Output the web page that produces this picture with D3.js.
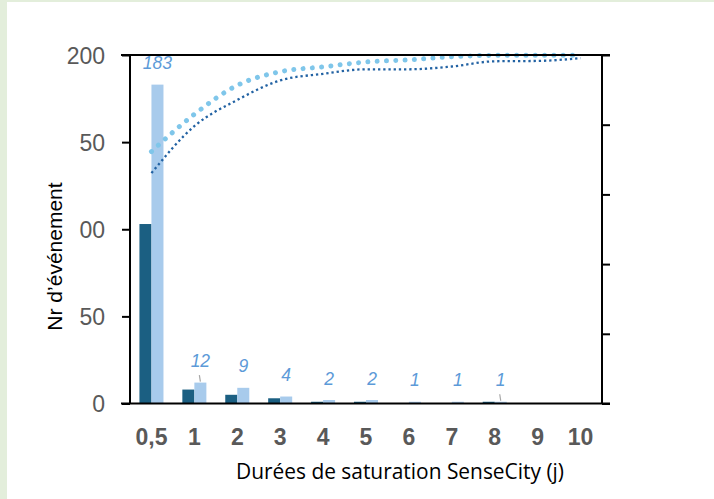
<!DOCTYPE html>
<html>
<head>
<meta charset="utf-8">
<script src="https://cdn.jsdelivr.net/npm/d3@7"></script>
<style>
  html, body { margin: 0; padding: 0; background: #e3eedb; }
  svg { display: block; }
</style>
</head>
<body>
<svg id="chart" width="714" height="499"></svg>
<script>
// ---- data ----
const categories = ["0,5", "1", "2", "3", "4", "5", "6", "7", "8", "9", "10"];
const darkValues = [103, 8, 5, 3, 1, 1, 0, 0, 1, 0, 0];
const lightValues = [183, 12, 9, 4, 2, 2, 1, 1, 1, 0, 0];
const lightLabels = ["183", "12", "9", "4", "2", "2", "1", "1", "1", "", ""];
const leaderCategories = ["1", "8"];
const darkCumul = [66.1, 79.6, 87.1, 92.7, 94.6, 95.9, 95.9, 96.7, 98.2, 98.3, 99.1];
const lightCumul = [72.3, 83.0, 91.3, 95.2, 96.6, 98.0, 98.6, 99.5, 99.9, 99.9, 99.9];
const leftTicks = [0, 50, 100, 150, 200];
const leftTickLabels = ["0", "50", "00", "50", "200"];
const rightTicks = [0, 20, 40, 60, 80, 100];
const xTitle = "Durées de saturation SenseCity (j)";
const yTitle = "Nr d\u2019événement";

// ---- layout ----
const svg = d3.select("#chart");
svg.append("rect").attr("x", 7).attr("y", 2).attr("width", 707).attr("height", 497).attr("fill", "#ffffff");

const L = 130, R = 602, T = 55, B = 403.5;
const x = d3.scaleBand().domain(categories).range([L, R]).paddingInner(0.44).paddingOuter(0.22);
const xs = d3.scaleBand().domain(["dark", "light"]).range([0, x.bandwidth()]);
const y = d3.scaleLinear().domain([0, 200]).range([B, T]);
const y2 = d3.scaleLinear().domain([0, 100]).range([B, T]);

const C = {
  dark: "#1b5f82",
  light: "#a8cbec",
  darkLine: "#2262a3",
  lightLine: "#7fc6ea",
  label: "#5c9ad8",
  tick: "#595959"
};

// bars
const g = svg.append("g");
categories.forEach((c, i) => {
  g.append("rect")
    .attr("x", x(c) + xs("dark")).attr("width", xs.bandwidth())
    .attr("y", y(darkValues[i])).attr("height", y(0) - y(darkValues[i]))
    .attr("fill", C.dark);
  g.append("rect")
    .attr("x", x(c) + xs("light")).attr("width", xs.bandwidth())
    .attr("y", y(lightValues[i])).attr("height", y(0) - y(lightValues[i]))
    .attr("fill", C.light);
});

// cumulative dotted lines
const cx = c => x(c) + x.bandwidth() / 2;
const line = d3.line().x(d => cx(d.c)).y(d => y2(d.v)).curve(d3.curveMonotoneX);
svg.append("path")
  .attr("d", line(categories.map((c, i) => ({ c, v: darkCumul[i] }))))
  .attr("fill", "none").attr("stroke", C.darkLine)
  .attr("stroke-width", 2.3).attr("stroke-dasharray", "2.3 2.9");
svg.append("path")
  .attr("d", line(categories.map((c, i) => ({ c, v: lightCumul[i] }))))
  .attr("fill", "none").attr("stroke", C.lightLine)
  .attr("stroke-width", 5).attr("stroke-linecap", "round").attr("stroke-dasharray", "0.01 9.3");

// axes
const axisG = svg.append("g").attr("stroke", "#000").attr("stroke-width", 2);
axisG.append("line").attr("x1", 121).attr("x2", 610).attr("y1", T).attr("y2", T);
axisG.append("line").attr("x1", 121).attr("x2", 610).attr("y1", B).attr("y2", B);
axisG.append("line").attr("x1", L).attr("x2", L).attr("y1", T).attr("y2", B);
axisG.append("line").attr("x1", R).attr("x2", R).attr("y1", T).attr("y2", B);

const leftAxis = d3.axisLeft(y).tickValues(leftTicks).tickSize(8)
  .tickFormat((d, i) => leftTickLabels[i]);
const la = svg.append("g").attr("transform", `translate(${L},0)`).call(leftAxis);
la.select(".domain").remove();
la.selectAll(".tick line").attr("stroke", "#000").attr("stroke-width", 2);
la.selectAll(".tick text")
  .attr("x", -25).attr("dy", "0.35em")
  .attr("fill", C.tick).style("font", "23px 'Liberation Sans', Arial, sans-serif");

const rightAxis = d3.axisRight(y2).tickValues(rightTicks).tickSize(8).tickFormat("");
const ra = svg.append("g").attr("transform", `translate(${R},0)`).call(rightAxis);
ra.select(".domain").remove();
ra.selectAll(".tick line").attr("stroke", "#000").attr("stroke-width", 2);

const bottomAxis = d3.axisBottom(x).tickSize(0);
const ba = svg.append("g").attr("transform", `translate(0,${B})`).call(bottomAxis);
ba.select(".domain").remove();
ba.selectAll(".tick text")
  .attr("y", 41).attr("dy", 0)
  .attr("fill", C.tick).style("font", "bold 23px 'Liberation Sans', Arial, sans-serif");

// data labels
categories.forEach((c, i) => {
  if (!lightLabels[i]) return;
  const lx = x(c) + xs("light") + xs.bandwidth() / 2;
  const ly = y(lightValues[i]) - 21.5;
  svg.append("text")
    .attr("x", lx).attr("y", ly).attr("dy", "0.35em")
    .attr("text-anchor", "middle")
    .attr("fill", C.label)
    .style("font", "italic 17.5px 'Liberation Sans', Arial, sans-serif")
    .text(lightLabels[i]);
  if (leaderCategories.includes(c)) {
    svg.append("line")
      .attr("x1", lx - 1).attr("y1", ly + 14)
      .attr("x2", lx).attr("y2", y(lightValues[i]) - 1)
      .attr("stroke", "#a6a6a6").attr("stroke-width", 1.2);
  }
});

// titles
svg.append("text")
  .attr("x", 236).attr("y", 479)
  .attr("textLength", 328).attr("lengthAdjust", "spacingAndGlyphs")
  .attr("fill", "#000")
  .style("font", "22px 'Open Sans', 'Noto Sans', sans-serif")
  .text(xTitle);

svg.append("text")
  .attr("transform", "translate(62,256.5) rotate(-90)")
  .attr("text-anchor", "middle")
  .attr("fill", "#000")
  .style("font", "21px 'Liberation Sans', Arial, sans-serif")
  .text(yTitle);
</script>
</body>
</html>
